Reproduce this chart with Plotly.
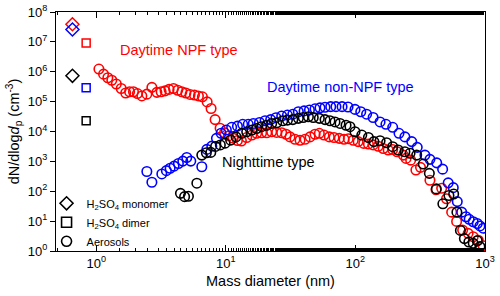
import plotly.graph_objects as go

# ---- data ----
mono_d = [0.656, 0.656, 0.656]
mono_n = [3.9e7, 2.6e7, 7.3e5]
mono_colors = ["red", "blue", "black"]

dimer_d = [0.837, 0.837, 0.837]
dimer_n = [9.1e6, 2.9e5, 2.3e4]

npf_d = [1.05, 1.14, 1.23, 1.32, 1.43, 1.56, 1.69, 1.81, 1.94, 2.08, 2.25, 2.46, 2.69, 2.94,
         3.17, 3.40, 3.65, 3.95, 4.26, 4.58, 4.92, 5.30, 5.73, 6.15, 6.60, 7.18, 7.70, 8.27,
         9.04, 9.79, 10.5, 11.4, 12.3, 13.2, 14.5, 15.9, 17.3, 18.9, 20.7, 22.6, 24.7, 27.0,
         29.2, 31.3, 34.2, 37.4, 40.9, 44.7, 48.8, 52.7, 57.3, 62.9, 68.4, 75.1, 81.7, 88.1,
         96.3, 105, 116, 126, 137, 150, 164, 179, 194, 210, 234, 246, 267, 293, 318, 376,
         419, 463, 505, 553, 604, 672, 741, 811, 887, 968]
npf_n = [1.23e6, 8.3e5, 6.3e5, 5.2e5, 3.9e5, 2.75e5, 1.95e5, 2.14e5, 2.14e5, 1.86e5, 1.55e5,
         1.78e5, 3.0e5, 2.04e5, 2.14e5, 2.29e5, 2.57e5, 2.75e5, 2.4e5, 2.14e5, 1.95e5, 1.74e5,
         1.66e5, 1.55e5, 1.45e5, 9.8e4, 5.9e4, 2.5e4, 1.29e4, 9.1e3, 7.1e3, 6.0e3, 5.0e3,
         4.8e3, 6.3e3, 7.6e3, 8.7e3, 9.1e3, 9.1e3, 9.8e3, 9.3e3, 9.1e3, 8.1e3, 6.6e3, 5.5e3,
         5.1e3, 5.5e3, 6.6e3, 8.1e3, 8.7e3, 7.6e3, 6.6e3, 6.3e3, 5.9e3, 5.5e3, 5.75e3, 5.1e3,
         4.6e3, 4.0e3, 3.8e3, 3.55e3, 3.2e3, 2.7e3, 2.4e3, 2.5e3, 2.1e3, 1.62e3, 1.26e3,
         1.1e3, 513, 631, 234, 112, 126, 56, 20, 9.8, 5.0, 3.9, 3.0, 2.3, 1.5]

nonnpf_d = [2.46, 2.69, 3.21, 3.48, 3.72, 3.99, 4.31, 4.66, 5.00, 5.37, 6.53, 7.14, 7.80,
            8.47, 9.20, 10.1, 11.1, 12.3, 13.5, 14.9, 16.3, 18.2, 20.1, 22.2, 24.4, 27.0,
            29.9, 32.9, 36.3, 40.2, 44.2, 48.8, 53.3, 58.3, 64.5, 70.8, 78.9, 87.7, 99.3,
            110, 122, 137, 155, 172, 194, 217, 241, 272, 300, 344, 376, 424, 471, 520, 569,
            611, 661, 713, 755, 811, 871, 914, 968]
nonnpf_n = [457, 200, 380, 490, 589, 692, 851, 1023, 1349, 1023, 661, 2512, 3236, 5888, 8710,
            1.12e4, 1.38e4, 1.51e4, 1.74e4, 1.74e4, 1.86e4, 2.0e4, 2.29e4, 2.5e4, 2.9e4,
            3.3e4, 3.55e4, 3.8e4, 4.57e4, 4.9e4, 5.25e4, 5.75e4, 6.2e4, 6.5e4, 6.8e4, 6.8e4,
            6.8e4, 6.6e4, 5.5e4, 4.57e4, 3.8e4, 2.95e4, 2.09e4, 1.74e4, 1.38e4, 8.7e3, 6.6e3,
            4.6e3, 2.95e3, 1.62e3, 1.17e3, 891, 550, 191, 132, 45, 20, 14, 11.5, 9.5, 8.3,
            6.9, 5.8]

night_d = [4.47, 4.81, 5.15, 5.98, 6.53, 7.08, 7.66, 8.34, 9.08, 9.88, 10.9, 12.0, 13.3,
           14.5, 15.9, 17.3, 18.9, 20.7, 22.6, 24.7, 27.5, 29.9, 32.9, 36.3, 39.6, 43.4,
           47.3, 52.7, 58.3, 63.7, 69.6, 76.1, 84.7, 90.8, 99.3, 112, 126, 139, 155, 174,
           194, 214, 241, 264, 297, 334, 372, 421, 473, 527, 573, 607, 646, 693, 751, 811,
           871, 914]
night_n = [85, 66, 68, 186, 1622, 1950, 2000, 3162, 3548, 4074, 5129, 6607, 8710, 9772,
           1.12e4, 1.26e4, 1.45e4, 1.62e4, 1.86e4, 1.95e4, 2.29e4, 2.4e4, 2.5e4, 2.75e4,
           2.95e4, 3.1e4, 2.95e4, 2.75e4, 2.5e4, 2.29e4, 2.09e4, 1.86e4, 1.62e4, 1.45e4,
           9.8e3, 7.6e3, 6.3e3, 4.6e3, 4.9e3, 4.2e3, 3.1e3, 2.4e3, 2.1e3, 1.86e3, 1.62e3,
           813, 398, 120, 38, 72, 81, 20, 4.9, 2.6, 2.0, 1.8, 2.2, 1.4]

x_tickvals = [1, 10, 100, 1000]
x_ticktext = ["10<sup>0</sup>", "10<sup>1</sup>", "10<sup>2</sup>", "10<sup>3</sup>"]
y_tickvals = [1, 10, 100, 1e3, 1e4, 1e5, 1e6, 1e7, 1e8]
y_ticktext = ["10<sup>%d</sup>" % i for i in range(9)]

RED = "rgb(255,0,0)"
BLUE = "rgb(0,0,255)"
BLACK = "rgb(0,0,0)"
FONT = "Liberation Sans, Arial, Helvetica, sans-serif"

fig = go.Figure()

def circles(x, y, color):
    fig.add_trace(go.Scatter(x=x, y=y, mode="markers", showlegend=False,
                             marker=dict(symbol="circle-open", size=9.5, color=color,
                                         line=dict(width=1.6, color=color))))

circles(npf_d, npf_n, RED)
circles(nonnpf_d, nonnpf_n, BLUE)
circles(night_d, night_n, BLACK)

fig.add_trace(go.Scatter(x=mono_d, y=mono_n, mode="markers", showlegend=False,
                         marker=dict(symbol="diamond-open", size=10, color=mono_colors,
                                     line=dict(width=1.5, color=mono_colors))))
fig.add_trace(go.Scatter(x=dimer_d, y=dimer_n, mode="markers", showlegend=False,
                         marker=dict(symbol="square-open", size=8, color=mono_colors,
                                     line=dict(width=1.5, color=mono_colors))))

# legend entries (black symbols)
for sym, name in [("diamond-open", "H<sub>2</sub>SO<sub>4</sub> monomer"),
                  ("square-open", "H<sub>2</sub>SO<sub>4</sub> dimer"),
                  ("circle-open", "Aerosols")]:
    fig.add_trace(go.Scatter(x=[None], y=[None], mode="markers", name=name,
                             marker=dict(symbol=sym, size=10, color=BLACK,
                                         line=dict(width=1.6, color=BLACK))))

# annotation positions on log axes are given in log10 units
fig.add_annotation(x=0.17, y=6.72, xref="x", yref="y", text="Daytime NPF type",
                   showarrow=False, xanchor="left", font=dict(color=RED, size=14.5, family=FONT))
fig.add_annotation(x=1.303, y=5.48, xref="x", yref="y", text="Daytime non-NPF type",
                   showarrow=False, xanchor="left", font=dict(color=BLUE, size=14.5, family=FONT))
fig.add_annotation(x=0.956, y=2.98, xref="x", yref="y", text="Nighttime type",
                   showarrow=False, xanchor="left", font=dict(color=BLACK, size=14.5, family=FONT))

axis_common = dict(showline=True, linecolor="black", linewidth=1, showgrid=False,
                   zeroline=False, tickcolor="black")

fig.update_layout(
    width=500, height=296,
    margin=dict(l=56, r=15, t=12, b=45, autoexpand=False),
    plot_bgcolor="white", paper_bgcolor="white",
    font=dict(family=FONT, color="black", size=13),
    showlegend=True,
    legend=dict(x=-0.022, y=-0.02, xanchor="left", yanchor="bottom",
                bgcolor="rgba(0,0,0,0)", font=dict(size=11, family=FONT),
                tracegroupgap=0, itemwidth=30),
    xaxis=dict(type="log", range=[-0.31, 3.0], ticks="inside", ticklen=6,
               mirror="allticks", tickvals=x_tickvals, ticktext=x_ticktext,
               minor=dict(ticks="inside", ticklen=3, tickcolor="black", showgrid=False),
               title=dict(text="Mass diameter (nm)", font=dict(size=14.5), standoff=6),
               tickfont=dict(size=13), **axis_common),
    yaxis=dict(type="log", range=[0, 8], ticks="outside", ticklen=5,
               mirror=True, tickvals=y_tickvals, ticktext=y_ticktext,
               title=dict(text="dN/dlog<i>d</i><sub>p</sub> (cm<sup>-3</sup>)",
                          font=dict(size=14.5), standoff=4),
               tickfont=dict(size=13), **axis_common),
    yaxis2=dict(type="log", range=[0, 8], overlaying="y", side="right",
                ticks="inside", ticklen=5, tickvals=y_tickvals, showticklabels=False,
                showline=False, showgrid=False, zeroline=False, tickcolor="black"),
)

# remove the browser's default 8px body margin so the figure sits at the page origin
fig.write_html("out.html", config={"displayModeBar": False},
               post_script="document.body.style.margin='0';document.body.style.overflow='hidden';")
